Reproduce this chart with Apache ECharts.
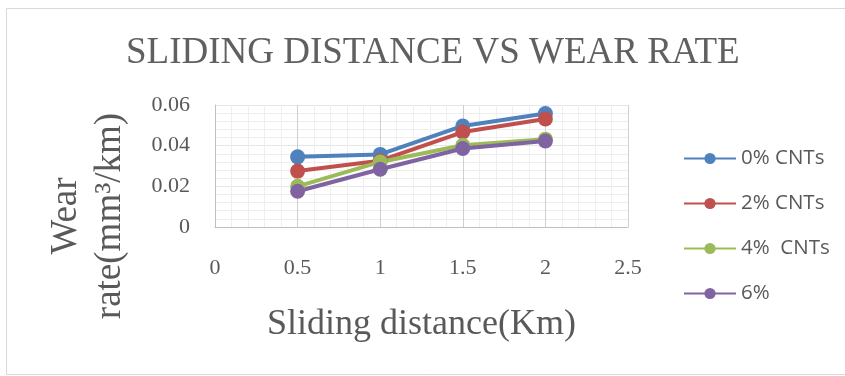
<!DOCTYPE html>
<html>
<head>
<meta charset="utf-8">
<script src="https://cdn.jsdelivr.net/npm/echarts@6/dist/echarts.min.js"></script>
<style>html,body{margin:0;padding:0;background:#fff;}#c{width:845px;height:376px;}</style>
</head>
<body>
<div id="c"></div>
<script>
var distances = [0.5, 1, 1.5, 2];
var seriesNames = ['0% CNTs', '2% CNTs', '4%  CNTs', '6%'];
var cnt0 = [0.0345, 0.0357, 0.0497, 0.0558];
var cnt2 = [0.0275, 0.0326, 0.0467, 0.0531];
var cnt4 = [0.0200, 0.0320, 0.0402, 0.0432];
var cnt6 = [0.0176, 0.0284, 0.0386, 0.0423];
var xTickLabels = ['0', '0.5', '1', '1.5', '2', '2.5'];
var yTickLabels = ['0', '0.02', '0.04', '0.06'];
var colors = ['#4F81BD', '#C0504D', '#9BBB59', '#8064A2'];

function pairs(vals) { return distances.map(function (d, i) { return [d, vals[i]]; }); }
var allVals = [cnt0, cnt2, cnt4, cnt6];

var chart = echarts.init(document.getElementById('c'));
var serif = '"Liberation Serif", "Times New Roman", serif';
var txt = '#595959';
chart.setOption({
  animation: false,
  color: colors,
  title: {
    text: 'SLIDING DISTANCE VS WEAR RATE',
    left: 121, top: 30,
    textStyle: { fontFamily: serif, fontSize: 37, fontWeight: 'normal', color: '#606060' }
  },
  legend: {
    orient: 'vertical', left: 683, top: 148, padding: 0,
    itemWidth: 52, itemHeight: 14, itemGap: 24,
    data: seriesNames,
    textStyle: { fontFamily: '"Open Sans", sans-serif', fontSize: 20.5, color: txt, lineHeight: 20 }
  },
  graphic: [
    { type: 'rect', shape: { x: 6.5, y: 8.5, width: 850, height: 366 }, style: { fill: 'none', stroke: '#d9d9d9', lineWidth: 1 }, silent: true },
    { type: 'text', x: 88, y: 216, rotation: Math.PI / 2,
      style: { text: 'Wear\nrate(mm³/km)', align: 'center', verticalAlign: 'middle', font: '37px ' + serif, fill: txt, lineHeight: 44 } }
  ],
  grid: { left: 215, right: 217, top: 105, bottom: 149 },
  xAxis: {
    type: 'value', min: 0, max: 2.5, interval: 0.5,
    name: 'Sliding distance(Km)', nameLocation: 'middle', nameGap: 80,
    nameTextStyle: { fontFamily: serif, fontSize: 36, color: txt },
    axisLine: { lineStyle: { color: '#bfbfbf' } },
    axisTick: { show: false },
    axisLabel: { margin: 30, fontFamily: serif, fontSize: 22, color: txt,
      formatter: function (v) { return xTickLabels[Math.round(v / 0.5)]; } },
    splitLine: { show: true, lineStyle: { color: '#d0d0d0' } },
    minorTick: { show: false, splitNumber: 5 },
    minorSplitLine: { show: true, lineStyle: { color: '#efefef' } }
  },
  yAxis: {
    type: 'value', min: 0, max: 0.06, interval: 0.02,
    axisLine: { show: true, lineStyle: { color: '#bfbfbf' } },
    axisTick: { show: false },
    axisLabel: { margin: 25, fontFamily: serif, fontSize: 22, color: txt,
      formatter: function (v) { return yTickLabels[Math.round(v / 0.02)]; } },
    splitLine: { show: true, lineStyle: { color: '#e6e6e6' } },
    minorTick: { show: false, splitNumber: 5 },
    minorSplitLine: { show: true, lineStyle: { color: '#eeeeee' } }
  },
  series: seriesNames.map(function (n, i) {
    return {
      name: n, type: 'line', data: pairs(allVals[i]),
      symbol: 'circle', symbolSize: 15,
      lineStyle: { width: 4 },
      itemStyle: { color: colors[i] }
    };
  })
});
</script>
</body>
</html>
